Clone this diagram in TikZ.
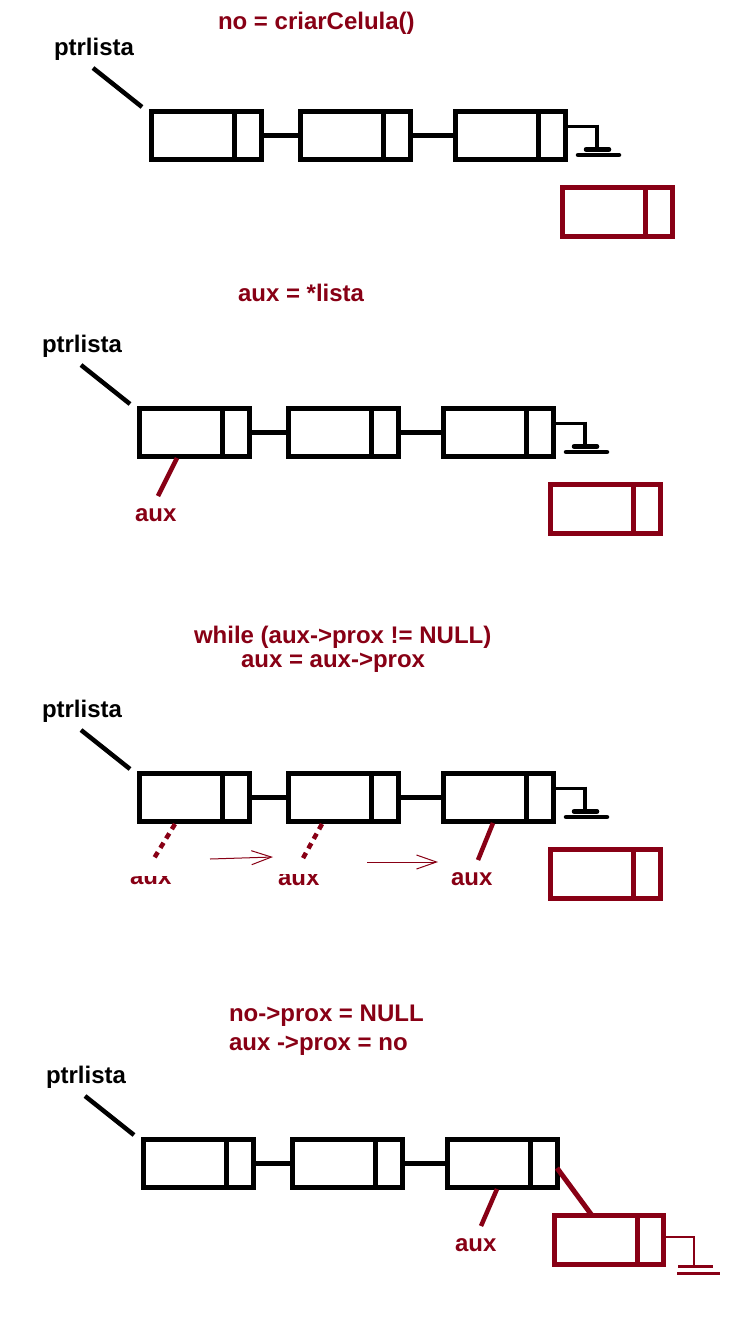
\documentclass[tikz,border=0pt]{standalone}
\usepackage{fontspec}
\setmainfont{Liberation Sans}
\usetikzlibrary{calc,arrows.meta}
\definecolor{dred}{RGB}{136,0,21}
\tikzset{
 cellbox/.style={draw=black, line width=5pt, rectangle, inner sep=0pt, outer sep=0pt, minimum width=109.5pt, minimum height=48pt, anchor=north west},
 redbox/.style={cellbox, draw=dred, minimum width=110pt, minimum height=48.5pt},
 lbl/.style={inner sep=0pt, outer sep=0pt, anchor=base west, font=\fontsize{24}{28}\selectfont\bfseries},
 redlbl/.style={lbl, text=dred},
 blkline/.style={line width=5pt, black},
 ptrline/.style={line width=4.5pt, black},
 auxline/.style={line width=4.5pt, dred},
 dashaux/.style={auxline, dash pattern=on 6pt off 5pt},
 gnd/.style={line width=4pt, black},
 gndbar/.style={line width=4.5pt, black, line cap=round},
 rgnd/.style={line width=2.5pt, dred},
 thinarr/.style={dred, line width=1pt, -{Straight Barb[length=20pt,width=14pt]}},
}
\newcommand\drawchain[1]{%
 \node[lbl] (#1p) at (54,55) {ptrlista};
 \coordinate (#1ps) at (93,68);
 \node[cellbox] (#1a) at (151.5,111) {};
 \node[cellbox] (#1b) at (300.5,111) {};
 \node[cellbox] (#1c) at (455.5,111) {};
 \draw[blkline] ($(#1a.north west)+(82.5,0)$) -- ($(#1a.south west)+(82.5,0)$);
 \draw[blkline] ($(#1b.north west)+(82.5,0)$) -- ($(#1b.south west)+(82.5,0)$);
 \draw[blkline] ($(#1c.north west)+(82.5,0)$) -- ($(#1c.south west)+(82.5,0)$);
 \draw[blkline] (#1a.east) -- (#1b.west) (#1b.east) -- (#1c.west);
 \draw[ptrline] (#1ps) -- ($(#1a.north west)+(-9.5,-4)$);
}
\newcommand\drawtail[1]{%
 \draw[gnd, line width=3pt] ($(#1c.north east)+(0,15)$) -- ($(#1c.north east)+(34,15)$);
 \draw[gnd] ($(#1c.north east)+(32,13.5)$) -- ($(#1c.north east)+(32,38.5)$);
 \draw[gndbar] ($(#1c.north east)+(21,38.5)$) -- ($(#1c.north east)+(44,38.5)$);
 \draw[gndbar] ($(#1c.north east)+(13,44)$) -- ($(#1c.north east)+(54,44)$);
 \node[redbox] (#1r) at (562.5,187.5) {};
 \draw[draw=dred, line width=5pt] ($(#1r.north west)+(82.5,0)$) -- ($(#1r.south west)+(82.5,0)$);
}
\begin{document}
\begin{tikzpicture}[x=1pt,y=-1pt]
\fill[white] (0,0) rectangle (754,1320);
\useasboundingbox (0,0) rectangle (754,1320);

% ---------- section 1
\node[redlbl] (t1) at (218,29) {no = criarCelula()};
\begin{scope}[shift={(0,0)}]
 \drawchain{A}
 \drawtail{A}
\end{scope}

% ---------- section 2
\node[redlbl] (t2) at (238,301) {aux = *lista};
\begin{scope}[shift={(-12,297)}]
 \drawchain{B}
 \drawtail{B}
\end{scope}
\node[redlbl] (Bl) at (135,521) {aux};
\coordinate (Bx) at (158,496);
\draw[auxline] ($(Ba.south west)+(37.5,2)$) -- (Bx);

% ---------- section 3
\node[redlbl] (t3a) at (194,643) {while (aux->prox != NULL)};
\node[redlbl] (t3b) at (241,667) {aux = aux->prox};
\begin{scope}[shift={(-12,662)}]
 \drawchain{C}
 \drawtail{C}
\end{scope}
\coordinate (Cx1) at (153,860);
\coordinate (Cx2) at (302,860);
\coordinate (Cx3) at (478,860);
\draw[dashaux] ($(Ca.south west)+(35.5,3)$) -- (Cx1);
\draw[dashaux] ($(Cb.south west)+(33.5,3)$) -- (Cx2);
\draw[auxline] ($(Cc.south west)+(49.5,2)$) -- (Cx3);
\begin{scope}
 \clip (120,876) rectangle (180,895);
 \node[redlbl] (Cl1) at (130,884) {aux};
\end{scope}
\begin{scope}
 \clip (268,874) rectangle (330,895);
 \node[redlbl] (Cl2) at (278,885) {aux};
\end{scope}
\node[redlbl] (Cl3) at (451,885) {aux};
\coordinate (Ar1s) at (210,859);
\coordinate (Ar1e) at (273,857);
\coordinate (Ar2s) at (367,862);
\coordinate (Ar2e) at (438,862);
\draw[thinarr] (Ar1s) -- (Ar1e);
\draw[thinarr] (Ar2s) -- (Ar2e);

% ---------- section 4
\node[redlbl] (t4a) at (229,1021) {no->prox = NULL};
\node[redlbl] (t4b) at (229,1050) {aux ->prox = no};
\begin{scope}[shift={(-8,1028)}]
 \drawchain{D}
\end{scope}
\node[redlbl] (Dl) at (455,1251) {aux};
\coordinate (Dx) at (481,1226);
\draw[auxline] ($(Dc.south west)+(49.5,2)$) -- (Dx);
\node[redbox, minimum width=108.5pt, minimum height=49pt] (Dr) at (554.5,1215.5) {};
\draw[draw=dred, line width=5pt] ($(Dr.north west)+(82.5,0)$) -- ($(Dr.south west)+(82.5,0)$);
\draw[auxline, line width=5pt] ($(Dc.north east)+(0,29)$) -- ($(Dr.north west)+(37.5,0)$);
\draw[rgnd] ($(Dr.north east)+(0,21.5)$) -| ($(Dr.north east)+(31,50.5)$);
\draw[rgnd, line width=3pt] ($(Dr.north east)+(15,50.5)$) -- ($(Dr.north east)+(50,50.5)$);
\draw[rgnd, line width=3pt] ($(Dr.north east)+(14,57.5)$) -- ($(Dr.north east)+(57,57.5)$);
\end{tikzpicture}
\end{document}
